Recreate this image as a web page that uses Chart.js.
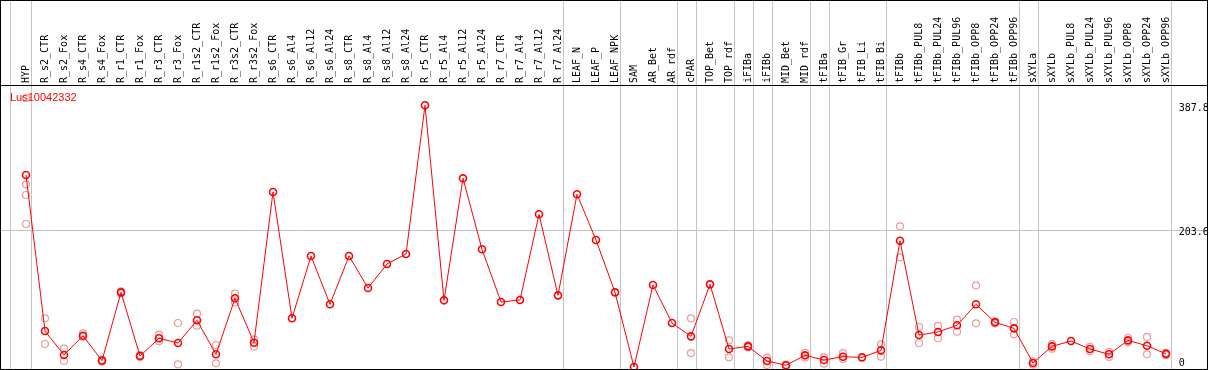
<!DOCTYPE html>
<html>
<head>
<meta charset="utf-8">
<script src="https://cdn.jsdelivr.net/npm/chart.js@4/dist/chart.umd.min.js"></script>
<style>
  html, body { margin: 0; padding: 0; background: #fff; }
  canvas { display: block; }
</style>
</head>
<body>
<canvas id="expr" width="1209" height="370"></canvas>
<script>
// gene / title
const geneId = 'Lus10042332';

// tissues, in plot order
const tissues = [
  'HYP', 'R_s2_CTR', 'R_s2_Fox', 'R_s4_CTR', 'R_s4_Fox', 'R_r1_CTR', 'R_r1_Fox',
  'R_r3_CTR', 'R_r3_Fox', 'R_r1s2_CTR', 'R_r1s2_Fox', 'R_r3s2_CTR', 'R_r3s2_Fox',
  'R_s6_CTR', 'R_s6_Al4', 'R_s6_Al12', 'R_s6_Al24', 'R_s8_CTR', 'R_s8_Al4',
  'R_s8_Al12', 'R_s8_Al24', 'R_r5_CTR', 'R_r5_Al4', 'R_r5_Al12', 'R_r5_Al24',
  'R_r7_CTR', 'R_r7_Al4', 'R_r7_Al12', 'R_r7_Al24', 'LEAF_N', 'LEAF_P', 'LEAF_NPK',
  'SAM', 'AR_Bet', 'AR_rdf', 'cPAR', 'TOP_Bet', 'TOP_rdf', 'iFIBa', 'iFIBb',
  'MID_Bet', 'MID_rdf', 'tFIBa', 'tFIB_Gr', 'tFIB_Li', 'tFIB_Bi', 'tFIBb',
  'tFIBb_PUL8', 'tFIBb_PUL24', 'tFIBb_PUL96', 'tFIBb_OPP8', 'tFIBb_OPP24', 'tFIBb_OPP96',
  'sXYLa', 'sXYLb', 'sXYLb_PUL8', 'sXYLb_PUL24', 'sXYLb_PUL96', 'sXYLb_OPP8',
  'sXYLb_OPP24', 'sXYLb_OPP96'
];

// mean expression per tissue
const means = [
  284.5, 53.3, 17.8, 46.4, 9.4, 110.6, 16.3, 42.5, 35.6, 69.2, 18.8, 101.8, 36.0,
  259.3, 72.2, 164.5, 92.9, 164.5, 117.1, 152.6, 167.5, 387.8, 98.8, 279.6, 174.4,
  96.3, 99.3, 226.3, 106.2, 255.9, 188.2, 110.6,
  0, 121.5, 65.2, 45.4, 122.5, 26.7, 30.6, 8.9, 2.5, 17.3, 10.4, 15.3, 14.3, 24.7,
  187.2, 47.4, 51.9, 61.8, 92.9, 66.2, 57.3,
  5.9, 30.6, 38.5, 26.7, 18.8, 39.5, 31.4, 19.5
];

// individual replicates (empty = none shown)
const replicates = [
  [398.6, 270.7, 254.9, 211.9], [72.2, 34.1], [27.2, 8.9], [49.9, 44.9], [11, 8],
  [112, 109], [17.5, 15], [47.9, 38.0], [65.2, 4.0], [79.0, 61.2], [32.6, 5.4],
  [108.7, 95.8], [41.0, 30.1],
  [], [], [], [], [], [], [], [], [], [], [], [], [], [], [], [], [], [], [],
  [], [], [], [72.2, 20.7], [], [39.5, 14.3], [32.5, 29], [13.8, 3.0],
  [3.5, 1.5], [21, 14], [14.3, 4.9], [20.7, 11.9], [], [33.6, 15.3],
  [208.5, 162.5], [59.3, 35.6], [60.8, 42.5], [70.1, 52.3], [121.0, 64.7], [67.5, 64.5], [66.7, 48.4],
  [8.5, 3.5], [34, 27], [], [30, 23.5], [22.5, 15], [43, 36.5], [44.5, 18.8], [21, 17.5]
];

// right-hand value labels and horizontal grid
const yLabels = [0, 203.6, 387.8];
const yGrid = [203.6];

// group separators (between tissue groups, in index units)
const groupBreaks = [-0.85, 0.25, 28.25, 31.25, 34.25, 35.25, 37.25, 38.25, 39.25,
  41.25, 42.25, 45.25, 52.25, 53.25, 60.25];

const meanPts = means.map((v, i) => ({ x: i, y: v }));
const repPts = [];
replicates.forEach((arr, i) => arr.forEach(v => repPts.push({ x: i, y: v })));

const GRID = '#c4c4c4';

const decor = {
  id: 'decor',
  beforeDatasetsDraw(chart) {
    const { ctx, chartArea: a, scales: { x, y } } = chart;
    ctx.save();
    ctx.strokeStyle = GRID;
    ctx.lineWidth = 1;
    ctx.beginPath();
    groupBreaks.forEach(b => {
      const px = Math.round(x.getPixelForValue(b)) + 0.5;
      ctx.moveTo(px, 0);
      ctx.lineTo(px, a.bottom);
    });
    yGrid.forEach(v => {
      const py = Math.round(y.getPixelForValue(v)) + 0.5;
      ctx.moveTo(a.left, py);
      ctx.lineTo(a.right, py);
    });
    ctx.stroke();
    ctx.restore();
  },
  afterDraw(chart) {
    const { ctx, chartArea: a, scales: { x, y } } = chart;
    ctx.save();
    // frame
    ctx.strokeStyle = '#000';
    ctx.lineWidth = 1;
    ctx.beginPath();
    ctx.moveTo(0.5, 0); ctx.lineTo(0.5, a.bottom + 1);
    ctx.moveTo(a.right - 0.5, 0); ctx.lineTo(a.right - 0.5, a.bottom + 1);
    ctx.moveTo(0, 0.5); ctx.lineTo(a.right, 0.5);
    ctx.moveTo(0, a.top + 0.5); ctx.lineTo(a.right, a.top + 0.5);
    ctx.moveTo(0, a.bottom + 0.5); ctx.lineTo(a.right, a.bottom + 0.5);
    ctx.stroke();

    // value labels on the right
    ctx.fillStyle = '#000';
    ctx.font = '10px "DejaVu Sans Mono"';
    ctx.textAlign = 'left';
    ctx.textBaseline = 'top';
    const lx = x.getPixelForValue(groupBreaks[groupBreaks.length - 1]) + 8;
    yLabels.forEach(v => {
      const py = Math.min(y.getPixelForValue(v) - 2, a.bottom - 11);
      ctx.fillText(String(v), lx, py);
    });

    // gene id
    ctx.fillStyle = '#ff0000';
    ctx.font = '11px "Liberation Sans"';
    ctx.textBaseline = 'top';
    ctx.fillText(geneId, 10, a.top + 7);
    ctx.restore();
  }
};

new Chart(document.getElementById('expr').getContext('2d'), {
  type: 'line',
  data: {
    datasets: [
      {
        label: 'mean',
        data: meanPts,
        borderColor: '#ff0000',
        borderWidth: 1,
        tension: 0,
        pointStyle: 'circle',
        pointRadius: 3.5,
        pointBorderWidth: 1.6,
        pointBorderColor: '#ff0000',
        pointBackgroundColor: 'rgba(0,0,0,0)'
      },
      {
        label: 'replicates',
        data: repPts,
        showLine: false,
        pointStyle: 'circle',
        pointRadius: 3.5,
        pointBorderWidth: 1.2,
        pointBorderColor: '#ec9a9a',
        pointBackgroundColor: 'rgba(0,0,0,0)'
      }
    ]
  },
  options: {
    responsive: false,
    animation: false,
    events: [],
    layout: { autoPadding: false, padding: { left: 1, right: 1, top: 0, bottom: 1 } },
    plugins: { legend: { display: false }, tooltip: { enabled: false } },
    scales: {
      x: {
        type: 'linear',
        position: 'top',
        min: -25 / 19,
        max: -25 / 19 + 1207 / 19,
        afterBuildTicks: s => { s.ticks = tissues.map((t, i) => ({ value: i })); },
        afterFit: s => {
          s.height = 85;
          s.paddingLeft = 0;
          s.paddingRight = 0;
        },
        grid: { display: false, drawTicks: false, tickLength: 0 },
        border: { display: false },
        ticks: {
          autoSkip: false,
          minRotation: 90,
          maxRotation: 90,
          padding: 2,
          labelOffset: 12,
          color: '#000',
          font: { family: 'DejaVu Sans Mono', size: 10 },
          callback: v => tissues[v]
        }
      },
      y: {
        display: false,
        min: -2.96,
        max: 417.9
      }
    }
  },
  plugins: [decor]
});
</script>
</body>
</html>
